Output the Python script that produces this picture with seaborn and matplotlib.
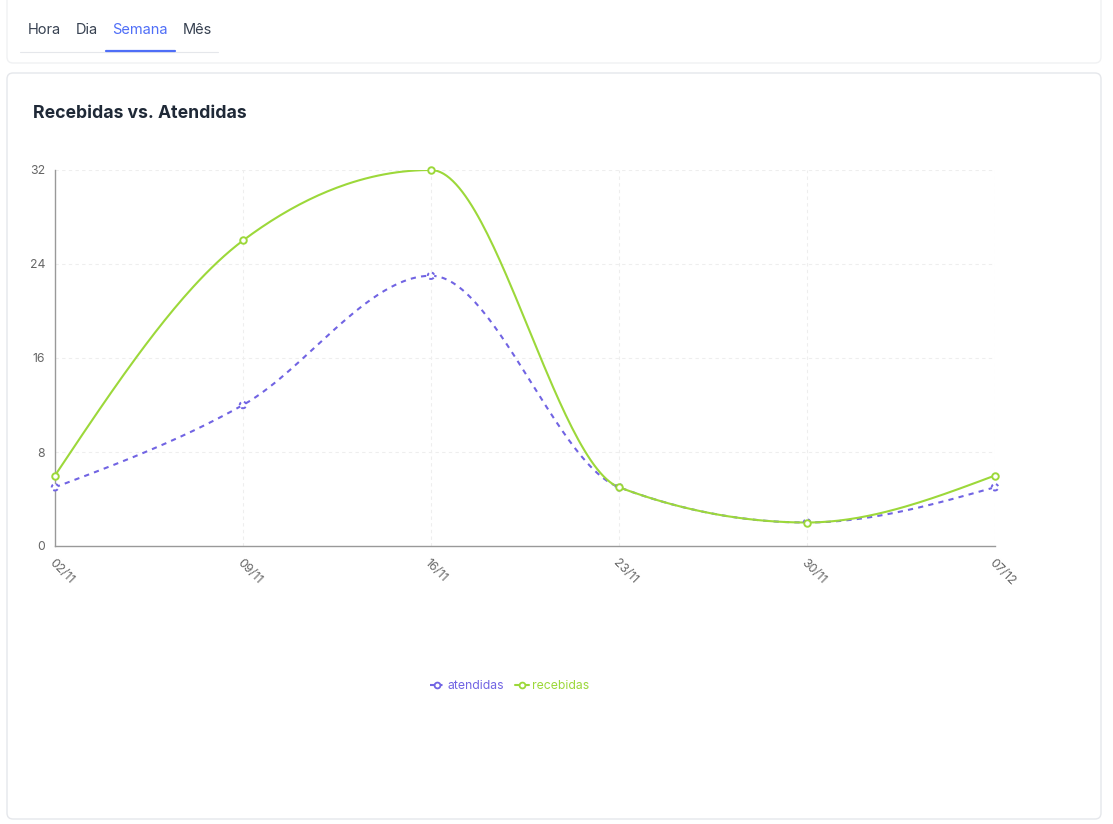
import numpy as np
import pandas as pd
import matplotlib
matplotlib.use("Agg")
import matplotlib.pyplot as plt
from matplotlib.patches import FancyBboxPatch
from matplotlib.lines import Line2D
from matplotlib.transforms import IdentityTransform
import seaborn as sns

# ---- data ----
semanas = ["02/11", "09/11", "16/11", "23/11", "30/11", "07/12"]
atendidas = [5, 12, 23, 5, 2, 5]
recebidas = [6, 26, 32, 5, 2, 6]
y_ticks = [0, 8, 16, 24, 32]
abas = ["Hora", "Dia", "Semana", "Mês"]

COR_ATEND = "#7164e3"
COR_RECEB = "#9cd83a"
W, H = 1113, 824

sns.set_theme(style="white")
plt.rcParams["font.family"] = ["Inter", "DejaVu Sans"]


def monotone_x(xs, ys, n=60):
    """Monotone cubic curve through the points (d3 curveMonotoneX)."""
    xs = np.asarray(xs, float)
    ys = np.asarray(ys, float)
    m = len(xs)
    h = np.diff(xs)
    s = np.diff(ys) / h
    t = np.zeros(m)
    for i in range(1, m - 1):
        s0, s1 = s[i - 1], s[i]
        p = (s0 * h[i] + s1 * h[i - 1]) / (h[i - 1] + h[i])
        t[i] = (np.sign(s0) + np.sign(s1)) * min(abs(s0), abs(s1), 0.5 * abs(p))
    t[0] = (3 * s[0] - t[1]) / 2
    t[-1] = (3 * s[-1] - t[-2]) / 2
    px, py = [], []
    for i in range(m - 1):
        u = np.linspace(0, 1, n, endpoint=(i == m - 2))
        dx = h[i]
        h00 = 2 * u**3 - 3 * u**2 + 1
        h10 = u**3 - 2 * u**2 + u
        h01 = -2 * u**3 + 3 * u**2
        h11 = u**3 - u**2
        px.append(xs[i] + u * dx)
        py.append(h00 * ys[i] + h10 * dx * t[i] + h01 * ys[i + 1] + h11 * dx * t[i + 1])
    return np.concatenate(px), np.concatenate(py)


fig = plt.figure(figsize=(W / 100, H / 100), dpi=100)
fig.patch.set_facecolor("white")


def card(x0, y0, x1, y1, r=6, edge="#e5e7eb"):
    fig.patches.append(FancyBboxPatch(
        (x0, H - y1), x1 - x0, y1 - y0,
        boxstyle=f"round,pad=0,rounding_size={r}",
        transform=IdentityTransform(), facecolor="white",
        edgecolor=edge, linewidth=1.0, zorder=-10))


card(7, -20, 1101, 63, edge="#f0f1f3")
card(7, 73, 1101, 819)

# tabs
tab_x = [44, 87, 140, 197]
for lbl, xc in zip(abas, tab_x):
    ativo = lbl == "Semana"
    fig.text(xc / W, 1 - 30 / H, lbl, ha="center", va="center", fontsize=10.5,
             color="#4f6ef7" if ativo else "#374151")
fig.add_artist(Line2D([20 / W, 218 / W], [1 - 52 / H] * 2, color="#e5e7eb", lw=0.8))
fig.add_artist(Line2D([106 / W, 175 / W], [1 - 51 / H] * 2, color="#4f6ef7", lw=1.6))

fig.text(33 / W, 1 - 113 / H, "Recebidas vs. Atendidas", ha="left", va="center",
         fontsize=12.7, fontweight="bold", color="#1f2937")

# chart area
left, right, top, bottom = 55, 995, 170, 546
ax = fig.add_axes([left / W, 1 - bottom / H, (right - left) / W, (bottom - top) / H])
ax.set_facecolor("none")
ax.set_zorder(2)

xi = np.arange(len(semanas))
curvas = []
for nome, vals in [("atendidas", atendidas), ("recebidas", recebidas)]:
    cx, cy = monotone_x(xi, vals)
    curvas.append(pd.DataFrame({"x": cx, "y": cy, "serie": nome}))

dens = pd.concat(curvas, ignore_index=True)
pts = pd.DataFrame({
    "x": np.concatenate([xi, xi]),
    "y": atendidas + recebidas,
    "serie": ["atendidas"] * len(xi) + ["recebidas"] * len(xi),
})

TRACO = (0, (2.5, 2.5))
sns.lineplot(data=dens[dens.serie == "atendidas"], x="x", y="y", color=COR_ATEND,
             lw=1.5, ax=ax, legend=False, sort=False, zorder=3, linestyle=TRACO)
sns.lineplot(data=dens[dens.serie == "recebidas"], x="x", y="y", color=COR_RECEB,
             lw=1.5, ax=ax, legend=False, sort=False, zorder=4)

sub = pts[pts.serie == "atendidas"]
ax.scatter(sub.x, sub.y, s=22, facecolor="white", edgecolor=COR_ATEND,
           linewidth=1.4, linestyle=(0, (1.6, 1.6)), zorder=5, clip_on=False)
sub = pts[pts.serie == "recebidas"]
ax.scatter(sub.x, sub.y, s=22, facecolor="white", edgecolor=COR_RECEB,
           linewidth=1.4, zorder=6, clip_on=False)

ax.set_xlim(0, len(semanas) - 1)
ax.set_ylim(0, 32)
ax.set_xticks(xi)
ax.set_xticklabels(semanas, rotation=-45, ha="left", va="top", rotation_mode="anchor")
ax.set_yticks(y_ticks)
ax.set_xlabel("")
ax.set_ylabel("")

for g in y_ticks[1:]:
    ax.axhline(g, color="#eeeeee", lw=0.8, ls=(0, (3, 3)), zorder=1)
for g in xi[1:]:
    ax.axvline(g, color="#eeeeee", lw=0.8, ls=(0, (3, 3)), zorder=1)

for sp in ["top", "right"]:
    ax.spines[sp].set_visible(False)
for sp in ["left", "bottom"]:
    ax.spines[sp].set_color("#999999")
    ax.spines[sp].set_linewidth(1.0)
ax.tick_params(axis="both", length=5, width=0.8, color="#999999",
               labelsize=8.8, labelcolor="#666666", direction="out")
ax.tick_params(axis="x", pad=3)
ax.tick_params(axis="y", pad=2)

handles = [
    Line2D([0], [0], color=COR_ATEND, lw=1.5, ls=(0, (2.5, 1)), marker="o",
           markersize=4.2, markerfacecolor="white", markeredgecolor=COR_ATEND,
           markeredgewidth=1.3),
    Line2D([0], [0], color=COR_RECEB, lw=1.5, marker="o", markersize=4.2,
           markerfacecolor="white", markeredgecolor=COR_RECEB, markeredgewidth=1.3),
]
fig.legend(handles, ["atendidas", "recebidas"], loc="center",
           bbox_to_anchor=(510 / W, 1 - 686 / H), ncol=2, frameon=False,
           fontsize=8.8, handlelength=1.1, handletextpad=0.3, columnspacing=0.9,
           labelcolor=[COR_ATEND, COR_RECEB])

fig.savefig("out.png", dpi=100, facecolor="white")
